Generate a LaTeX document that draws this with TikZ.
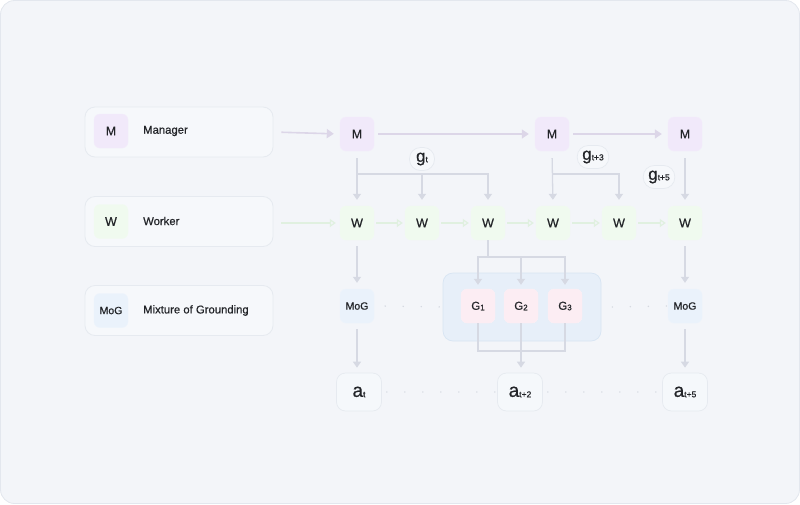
\documentclass[tikz,border=0pt]{standalone}
\usepackage{fontspec}
\setmainfont{Liberation Sans}[FakeBold=0.6]
\usetikzlibrary{arrows.meta}
\definecolor{bgc}{HTML}{F3F5F9}
\definecolor{bgline}{HTML}{E3E7EE}
\definecolor{legfill}{HTML}{F6F8FB}
\definecolor{legline}{HTML}{E6EAF0}
\definecolor{mfill}{HTML}{F1E9FA}
\definecolor{wfill}{HTML}{F0FAEF}
\definecolor{mogfill}{HTML}{EAF2FB}
\definecolor{gfill}{HTML}{FCEDF3}
\definecolor{afill}{HTML}{F5F8FB}
\definecolor{grpfill}{HTML}{E4EEF9}
\definecolor{grpline}{HTML}{D8E5F3}
\definecolor{arrc}{HTML}{D6D9E3}
\definecolor{marr}{HTML}{DCD6E8}
\definecolor{warr}{HTML}{E0F0E0}
\definecolor{dotc}{HTML}{D4D8E0}
\definecolor{txt}{HTML}{222428}
\tikzset{
  legbox/.style={rounded corners=10pt, fill=legfill, draw=legline, line width=0.8pt, minimum width=188pt, minimum height=50pt, inner sep=0pt},
  sq/.style={rounded corners=6pt, minimum width=34pt, minimum height=34pt, inner sep=0pt, text=txt, font=\fontsize{12.5}{14}\selectfont},
  mbox/.style={sq, fill=mfill, draw=mfill!85!white},
  wbox/.style={sq, fill=wfill, draw=wfill!85!white},
  mogbox/.style={sq, fill=mogfill, draw=mogfill!85!white, font=\fontsize{10.5}{12}\selectfont},
  gbox/.style={sq, fill=gfill, draw=gfill!85!white, font=\fontsize{11.5}{13}\selectfont},
  abox/.style={rounded corners=9pt, minimum width=45pt, minimum height=38pt, inner sep=0pt, fill=afill, draw=legline, line width=0.7pt, text=txt, font=\fontsize{19}{20}\selectfont},
  glab/.style={rounded corners=11pt, minimum height=23pt, minimum width=25pt, inner xsep=5pt, inner ysep=0pt, fill=legfill, draw=legline, line width=0.7pt, text=txt, font=\fontsize{17}{18}\selectfont},
  legtxt/.style={anchor=west, text=txt, font=\fontsize{11.3}{13}\selectfont, inner sep=0pt},
  arr/.style={draw=arrc, line width=1.3pt, -{Triangle[length=6pt,width=8pt]}},
  marrow/.style={draw=marr, line width=1.6pt, -{Triangle[length=7pt,width=9pt]}},
  warrow/.style={draw=warr, line width=1.2pt, -{Triangle[open,length=6pt,width=8pt]}},
  plain/.style={draw=arrc, line width=1.3pt},
  dots/.style={draw=dotc, line width=1.6pt, line cap=round, dash pattern=on 0pt off 18pt},
}
\newcommand{\sub}[1]{\raisebox{-0.5pt}{\fontsize{8.5}{9}\selectfont #1}}
\newcommand{\gsub}[1]{\raisebox{-0.5pt}{\fontsize{8}{9}\selectfont #1}}
\begin{document}
\begin{tikzpicture}[x=1pt,y=-1pt]
\useasboundingbox (0,0) rectangle (800,504);
\fill[bgc, rounded corners=14pt] (0.5,0.5) rectangle (799.5,503.5);
\draw[bgline, rounded corners=14pt, line width=0.8pt] (0.5,0.5) rectangle (799.5,503.5);

% legend
\node[legbox] (lgm) at (179,132) {};
\node[mbox] (lgmM) at (111,131) {M};
\node[legtxt] (lgmt) at (143,131) {Manager};
\node[legbox] (lgw) at (179,221.5) {};
\node[wbox] (lgwW) at (111,221.5) {W};
\node[legtxt] (lgwt) at (143,221) {Worker};
\node[legbox] (lgg) at (179,310.5) {};
\node[mogbox] (lggM) at (111,310.5) {MoG};
\node[legtxt] (lggt) at (143,310.5) {Mixture of Grounding};

% group box
\node[rounded corners=10pt, fill=grpfill, draw=grpline, line width=0.7pt, minimum width=158pt, minimum height=68pt, inner sep=0pt, fill opacity=0.8] (grp) at (522,307) {};

% managers
\node[mbox] (m1) at (357,134) {M};
\node[mbox] (m2) at (552,134) {M};
\node[mbox] (m3) at (685,134) {M};

% workers
\node[wbox] (w1) at (357,223) {W};
\node[wbox] (w2) at (422,223) {W};
\node[wbox] (w3) at (488,223) {W};
\node[wbox] (w4) at (553,223) {W};
\node[wbox] (w5) at (619,223) {W};
\node[wbox] (w6) at (685,223) {W};

% MoG and G
\node[mogbox] (mog1) at (357,306) {MoG};
\node[mogbox] (mog3) at (685,306) {MoG};
\node[gbox] (g1) at (478,306) {G\gsub{1}};
\node[gbox] (g2) at (521,306) {G\gsub{2}};
\node[gbox] (g3) at (565,306) {G\gsub{3}};

% actions
\node[abox] (a1) at (359,392) {a\sub{t}};
\node[abox] (a2) at (520,392) {a\sub{t+2}};
\node[abox] (a3) at (685,392) {a\sub{t+5}};

% goal labels
\node[glab] (gt) at (422,159) {g\sub{t}};
\node[glab] (gt3) at (593,157) {g\sub{t+3}};
\node[glab] (gt5) at (659,177) {g\sub{t+5}};

% manager arrows
\draw[marrow, shorten <=8pt, shorten >=6pt] (lgm.east) -- (m1.west);
\draw[marrow, shorten <=4pt, shorten >=6pt] (m1.east) -- (m2.west);
\draw[marrow, shorten <=4pt, shorten >=6pt] (m2.east) -- (m3.west);

% worker arrows
\draw[warrow, shorten <=8pt, shorten >=4pt] (lgw.east |- w1) -- (w1.west);
\draw[warrow, shorten <=2pt, shorten >=2pt] (w1.east) -- (w2.west);
\draw[warrow, shorten <=2pt, shorten >=2pt] (w2.east) -- (w3.west);
\draw[warrow, shorten <=2pt, shorten >=2pt] (w3.east) -- (w4.west);
\draw[warrow, shorten <=2pt, shorten >=2pt] (w4.east) -- (w5.west);
\draw[warrow, shorten <=2pt, shorten >=2pt] (w5.east) -- (w6.west);

% manager to workers
\coordinate (b1) at (357,174);
\coordinate (b2) at (552,174);
\draw[arr, shorten <=7pt, shorten >=6pt] (m1.south) -- (w1.north);
\draw[arr, shorten >=6pt] (b1) -| (w2.north);
\draw[arr, shorten >=6pt] (b1) -| (w3.north);
\draw[arr, shorten <=7pt, shorten >=6pt] (m2.south) -- (w4.north);
\draw[arr, shorten >=6pt] (b2) -| (w5.north);
\draw[arr, shorten <=7pt, shorten >=6pt] (m3.south) -- (w6.north);

% workers to MoG
\draw[arr, shorten <=6pt, shorten >=6pt] (w1.south) -- (mog1.north);
\draw[arr, shorten <=6pt, shorten >=6pt] (w6.south) -- (mog3.north);
\coordinate (s) at (488,257);
\draw[plain] (w3.south) -- (s);
\draw[arr, shorten >=4pt] (s) -| (g1.north);
\draw[arr, shorten >=4pt] (s) -| (g2.north);
\draw[arr, shorten >=4pt] (s) -| (g3.north);

% MoG to actions
\draw[arr, shorten <=6pt, shorten >=5pt] (mog1.south) -- (a1.north -| mog1);
\draw[arr, shorten <=6pt, shorten >=5pt] (mog3.south) -- (a3.north);
\coordinate (j) at (521,351);
\draw[plain] (g1.south) |- (j);
\draw[plain] (g3.south) |- (j);
\draw[arr, shorten >=5pt] (g2.south) -- (g2.south |- a2.north);

% dotted connections
\draw[dots] (mog1.east) ++(11,0) -- (grp.west);
\draw[dots] (grp.east) ++(11,0) -- (mog3.west);
\draw[dots] (a1.east) ++(5,0) -- (a2.west);
\draw[dots] (a2.east) ++(5,0) -- (a3.west);
\end{tikzpicture}
\end{document}
